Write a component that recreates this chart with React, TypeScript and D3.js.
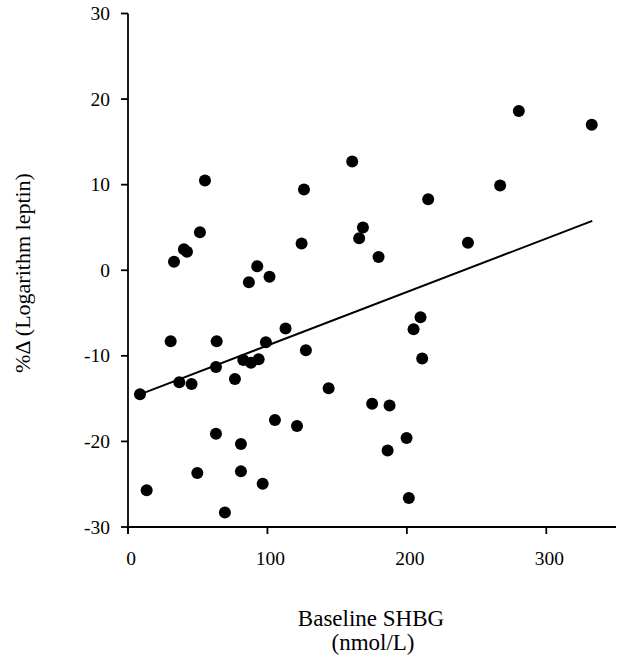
import React from "react";
import * as d3 from "d3";

const shbg = [8.6, 13.4, 30.6, 33, 36.8, 40.1, 42.3, 45.6, 49.7, 51.6, 55.2, 63.1, 63.6, 63.1, 69.5, 76.7, 81, 81, 82.7, 88.2, 93.7, 86.7, 92.7, 101.5, 98.9, 96.6, 105.4, 113, 121.2, 124.5, 126.2, 127.6, 143.9, 160.8, 165.8, 168.5, 175.1, 179.7, 186.2, 187.6, 199.8, 201.4, 204.8, 209.8, 211, 215.3, 243.8, 266.9, 280.3, 332.6];
const leptinChange = [-14.5, -25.7, -8.3, 1.0, -13.1, 2.45, 2.15, -13.3, -23.7, 4.45, 10.5, -11.3, -8.3, -19.1, -28.3, -12.7, -20.3, -23.5, -10.5, -10.8, -10.4, -1.4, 0.47, -0.75, -8.4, -24.95, -17.5, -6.8, -18.2, 3.12, 9.44, -9.36, -13.8, 12.7, 3.74, 5.0, -15.6, 1.56, -21.05, -15.8, -19.6, -26.6, -6.9, -5.5, -10.3, 8.3, 3.2, 9.9, 18.6, 17.0];
const fitX = [8.6, 333];
const fitY = [-14.5, 5.77];
const xTicks = [0, 100, 200, 300];
const yTicks = [-30, -20, -10, 0, 10, 20, 30];

export default function App() {
  const width = 623;
  const height = 657;
  const x = d3.scaleLinear().domain([0, 350]).range([128, 616]);
  const y = d3.scaleLinear().domain([-30, 30]).range([527, 13.5]);
  const font = "'Liberation Serif', 'Times New Roman', serif";
  const line = d3.line<number>().x((d) => x(fitX[d])).y((d) => y(fitY[d]));
  return (
    <svg width={width} height={height} style={{ position: "absolute", left: 0, top: 0, background: "#fff" }}>
      <g stroke="#000" strokeWidth={1.8} fill="none">
        <line x1={x(0)} x2={x(0)} y1={y(30)} y2={y(-30) + 7} />
        <line x1={x(0)} x2={x(350)} y1={y(-30)} y2={y(-30)} />
        {yTicks.map((t) => (
          <line key={"yt" + t} x1={x(0) - 7} x2={x(0)} y1={y(t)} y2={y(t)} />
        ))}
        {xTicks.map((t) => (
          <line key={"xt" + t} x1={x(t)} x2={x(t)} y1={y(-30)} y2={y(-30) + 7} />
        ))}
      </g>
      <g fontFamily={font} fontSize={19.5} fill="#000">
        {yTicks.map((t) => (
          <text key={"yl" + t} x={110} y={y(t)} dy="0.34em" textAnchor="end">
            {t}
          </text>
        ))}
        {xTicks.map((t) => (
          <text key={"xl" + t} x={x(t) + 3} y={565} textAnchor="middle">
            {t}
          </text>
        ))}
      </g>
      <path d={line([0, 1]) || ""} stroke="#000" strokeWidth={2} fill="none" />
      <g fill="#000">
        {shbg.map((v, i) => (
          <circle key={i} cx={x(v)} cy={y(leptinChange[i])} r={6} />
        ))}
      </g>
      <g fontFamily={font} fontSize={23} fill="#000">
        <text x={371} y={626} textAnchor="middle">Baseline SHBG</text>
        <text x={373} y={650} textAnchor="middle">(nmol/L)</text>
      </g>
      <g fontFamily={font} fontSize={22} fill="#000">
        <text transform={`translate(30, 273) rotate(-90)`} textAnchor="middle">%Δ (Logarithm leptin)</text>
      </g>
    </svg>
  );
}
